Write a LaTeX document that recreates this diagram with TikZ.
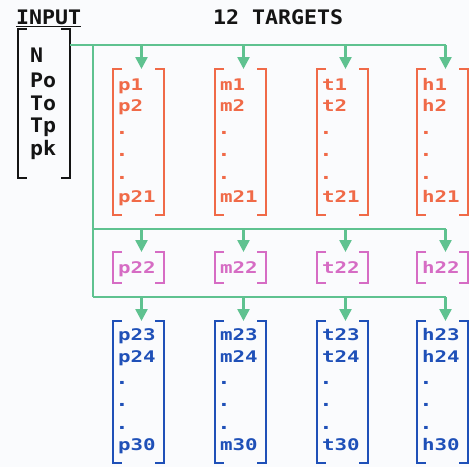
\documentclass[tikz,border=0pt]{standalone}
\usepackage{fontspec}
\usetikzlibrary{arrows.meta}
\newfontfamily\blkfont{DejaVu Sans Mono}[FakeStretch=1.08]
\newfontfamily\colfont{DejaVu Sans Mono}[FakeStretch=1.3]
\definecolor{bgc}{HTML}{FAFBFD}
\definecolor{oc}{HTML}{F06A48}
\definecolor{pc}{HTML}{D66CC4}
\definecolor{bc}{HTML}{1F50B8}
\definecolor{gc}{HTML}{5FC290}
\definecolor{kc}{HTML}{141414}
\newcommand\drawbrk[2]{%
  \draw[#2] ([xshift=9pt]#1.north west) -- (#1.north west) -- (#1.south west) -- ([xshift=9pt]#1.south west);
  \draw[#2] ([xshift=-9pt]#1.north east) -- (#1.north east) -- (#1.south east) -- ([xshift=-9pt]#1.south east);}
\tikzset{
  boxn/.style={rectangle, draw=none, inner sep=0pt, outer sep=0pt, minimum width=51pt},
  brk/.style={line width=2.9pt, line join=miter, line cap=butt},
  blk/.style={text=kc, inner sep=0pt, anchor=base west, font=\blkfont\bfseries\fontsize{20}{24}\selectfont},
  colt/.style={inner sep=0pt, anchor=base west, font=\colfont\bfseries\fontsize{16}{19}\selectfont},
  dott/.style={inner sep=0pt, anchor=base, font=\colfont\bfseries\fontsize{17}{19}\selectfont},
  gline/.style={draw=gc, line width=2.5pt},
  garrow/.style={draw=gc, line width=2.5pt, -{Triangle[width=12pt,length=12pt]}, fill=gc},
}
\begin{document}
\begin{tikzpicture}[x=1pt,y=-1pt]
\fill[bgc] (0,0) rectangle (469,467);
\useasboundingbox (0,0) rectangle (469,467);
% headings
\node[blk] (inlabel) at (16,24) {INPUT};
\draw[kc, line width=1.6pt] ([yshift=-2.5pt]inlabel.base west) -- ([yshift=-2.5pt]inlabel.base east);
\node[blk] (tglabel) at (213,24) {12 TARGETS};
% input box
\node[boxn, minimum width=52pt, minimum height=149pt] (inp) at (44,103.5) {};
\drawbrk{inp}{kc,brk}
\node[blk] (iN) at (30,62) {N};
\node[blk] (iPo) at (30,87) {Po};
\node[blk] (iTo) at (30,110) {To};
\node[blk] (iTp) at (30,132) {Tp};
\node[blk] (ipk) at (30,155) {pk};
% bus coordinates
\coordinate (busA) at (93,45);
\coordinate (busB) at (93,229);
\coordinate (busC) at (93,297);
\foreach \c/\L in {p/113,m/215,t/317,h/417} {
  \pgfmathsetmacro\cx{\L+25.5}
  \pgfmathsetmacro\ax{\L+28.5}
  \pgfmathsetmacro\tx{\L+5}
  \pgfmathsetmacro\dx{\L+9}
  \coordinate (\c a) at (\ax,45);
  \coordinate (\c b) at (\ax,229);
  \coordinate (\c c) at (\ax,297);
  % orange
  \node[boxn, minimum height=146pt] (\c O) at (\cx,142) {};
  \drawbrk{\c O}{oc,brk}
  \node[colt, text=oc] (\c o1) at (\tx,90.5) {\c1};
  \node[colt, text=oc] (\c o2) at (\tx,111.5) {\c2};
  \node[dott, text=oc] (\c od1) at (\dx,134) {.};
  \node[dott, text=oc] (\c od2) at (\dx,156) {.};
  \node[dott, text=oc] (\c od3) at (\dx,179) {.};
  \node[colt, text=oc] (\c o21) at (\tx,202.5) {\c21};
  % pink
  \node[boxn, minimum height=31pt] (\c P) at (\cx,267.5) {};
  \drawbrk{\c P}{pc,brk}
  \node[colt, text=pc] (\c p22) at (\tx,273) {\c22};
  % blue
  \node[boxn, minimum height=142pt] (\c B) at (\cx,392) {};
  \drawbrk{\c B}{bc,brk}
  \node[colt, text=bc] (\c b23) at (\tx,340.5) {\c23};
  \node[colt, text=bc] (\c b24) at (\tx,362.5) {\c24};
  \node[dott, text=bc] (\c bd1) at (\dx,384) {.};
  \node[dott, text=bc] (\c bd2) at (\dx,406) {.};
  \node[dott, text=bc] (\c bd3) at (\dx,429) {.};
  \node[colt, text=bc] (\c b30) at (\tx,450.5) {\c30};
  % arrows
  \draw[garrow] (\c a) -- (\c O.north -| \c a);
  \draw[garrow] (\c b) -- (\c P.north -| \c b);
  \draw[garrow] (\c c) -- (\c B.north -| \c c);
}
% green buses
\draw[gline] (inp.east |- busA) -- (ha);
\draw[gline] (busA) -- (busC);
\draw[gline] (busB) -- (hb);
\draw[gline] (busC) -- (hc);
\end{tikzpicture}
\end{document}
